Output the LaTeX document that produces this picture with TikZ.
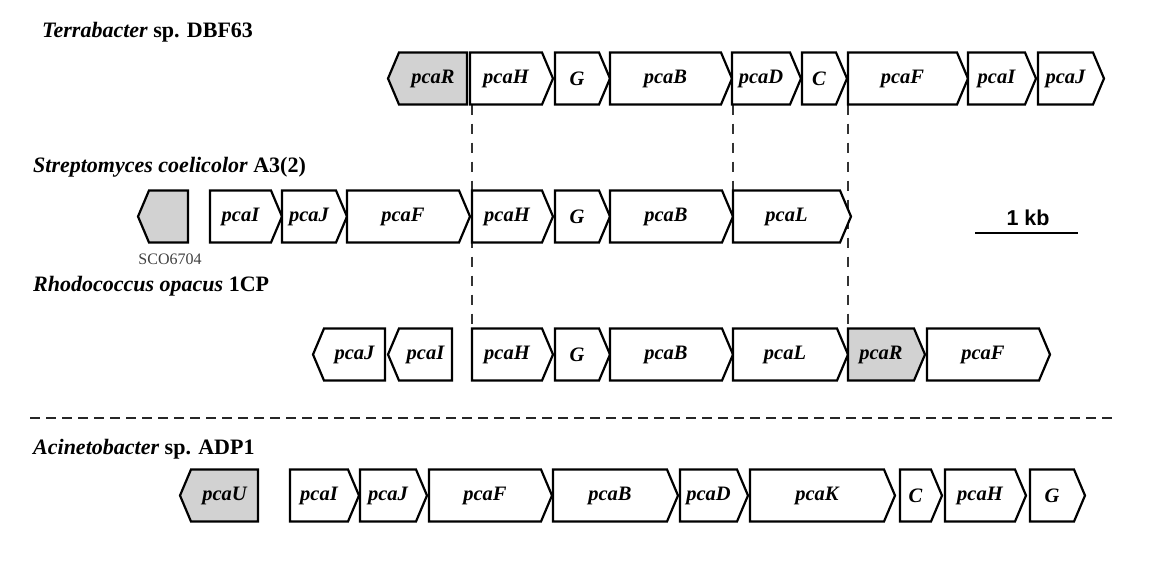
\documentclass[tikz,border=0pt]{standalone}
\usepackage{fontspec}
\setmainfont{Liberation Serif}
\newfontfamily\arialfont{Liberation Sans}
\begin{document}
\begin{tikzpicture}[x=1pt,y=-1pt,
  genebox/.style={draw=black,line width=2.2pt,line join=miter,fill=white},
  regulator/.style={fill=gray!35},
  genelabel/.style={font=\fontsize{20.5}{22}\selectfont\bfseries\itshape,inner sep=0pt},
  strain/.style={font=\fontsize{22}{24}\selectfont\bfseries,anchor=base west,inner sep=0pt},
  homology/.style={draw=black!80,line width=1.1pt,dash pattern=on 10pt off 9pt},
  divider/.style={draw=black!85,line width=2pt,dash pattern=on 10pt off 6pt}]
\useasboundingbox (0,0) rectangle (1151,566);

% gene pointing right: [style]{name}{x start}{x tip}{y centre}{label}
\newcommand\generight[6][]{%
  \draw[genebox,#1] (#3,#5-26) -- (#4-11,#5-26) -- (#4,#5) -- (#4-11,#5+26) -- (#3,#5+26) -- cycle;
  \node[genelabel] (#2) at ({(#3+#4-11)/2},#5) {#6};}
% gene pointing left: [style]{name}{x tip}{x end}{y centre}{label}
\newcommand\geneleft[6][]{%
  \draw[genebox,#1] (#3,#5) -- (#3+11,#5-26) -- (#4,#5-26) -- (#4,#5+26) -- (#3+11,#5+26) -- cycle;
  \node[genelabel] (#2) at ({(#3+11+#4)/2},#5) {#6};}

% strain names
\node[strain] (tDBF) at (42,37) {\textit{Terrabacter} sp. DBF63};
\node[strain] (tSco) at (33,172) {\textit{Streptomyces coelicolor} A3(2)};
\node[strain] (tRho) at (33,291) {\textit{Rhodococcus opacus} 1CP};
\node[strain] (tAci) at (33,454) {\textit{Acinetobacter} sp. ADP1};

% conserved block boundaries
\coordinate (h1) at (472,104.5);  \coordinate (h3) at (472,328.5);
\coordinate (b1) at (733,104.5);  \coordinate (b2) at (733,190.5);
\coordinate (l1) at (848,104.5);  \coordinate (l3) at (848,328.5);
\draw[homology] (h1) -- (h3);
\draw[homology] (b1) -- (b2);
\draw[homology] (l1) -- (l3);

% Terrabacter sp. DBF63
\geneleft[regulator]{aR}{388}{467}{78.5}{pcaR}
\generight{aH}{470}{553}{78.5}{pcaH}
\generight{aG}{555}{610}{78.5}{G}
\generight{aB}{610}{732}{78.5}{pcaB}
\generight{aD}{732}{801}{78.5}{pcaD}
\generight{aC}{802}{847}{78.5}{C}
\generight{aF}{848}{968}{78.5}{pcaF}
\generight{aI}{968}{1036}{78.5}{pcaI}
\generight{aJ}{1038}{1104}{78.5}{pcaJ}

% Streptomyces coelicolor A3(2)
\geneleft[regulator]{bS}{138}{188}{216.5}{}
\node[font=\fontsize{16}{18}\selectfont,text=black!75,inner sep=0pt] (bSlab) at (170,259) {SCO6704};
\generight{bI}{210}{282}{216.5}{pcaI}
\generight{bJ}{282}{347}{216.5}{pcaJ}
\generight{bF}{347}{470}{216.5}{pcaF}
\generight{bH}{472}{553}{216.5}{pcaH}
\generight{bG}{555}{610}{216.5}{G}
\generight{bB}{610}{733}{216.5}{pcaB}
\generight{bL}{733}{851}{216.5}{pcaL}

% scale bar
\node[font=\arialfont\fontsize{21.5}{23}\selectfont\bfseries,inner sep=0pt] (kb) at (1028,218) {1 kb};
\coordinate (kbL) at (975,233); \coordinate (kbR) at (1078,233);
\draw[line width=2.6pt] (kbL) -- (kbR);

% Rhodococcus opacus 1CP
\geneleft{cJ}{313}{385}{354.5}{pcaJ}
\geneleft{cI}{388}{452}{354.5}{pcaI}
\generight{cH}{472}{553}{354.5}{pcaH}
\generight{cG}{555}{610}{354.5}{G}
\generight{cB}{610}{733}{354.5}{pcaB}
\generight{cL}{733}{848}{354.5}{pcaL}
\generight[regulator]{cR}{848}{925}{354.5}{pcaR}
\generight{cF}{927}{1050}{354.5}{pcaF}

% separator
\coordinate (sepL) at (30,418); \coordinate (sepR) at (1118,418);
\draw[divider] (sepL) -- (sepR);

% Acinetobacter sp. ADP1
\geneleft[regulator]{dU}{180}{258}{495.5}{pcaU}
\generight{dI}{290}{359}{495.5}{pcaI}
\generight{dJ}{360}{427}{495.5}{pcaJ}
\generight{dF}{429}{552}{495.5}{pcaF}
\generight{dB}{553}{678}{495.5}{pcaB}
\generight{dD}{680}{748}{495.5}{pcaD}
\generight{dK}{750}{895}{495.5}{pcaK}
\generight{dC}{900}{942}{495.5}{C}
\generight{dH}{945}{1026}{495.5}{pcaH}
\generight{dG}{1030}{1085}{495.5}{G}
\end{tikzpicture}
\end{document}
